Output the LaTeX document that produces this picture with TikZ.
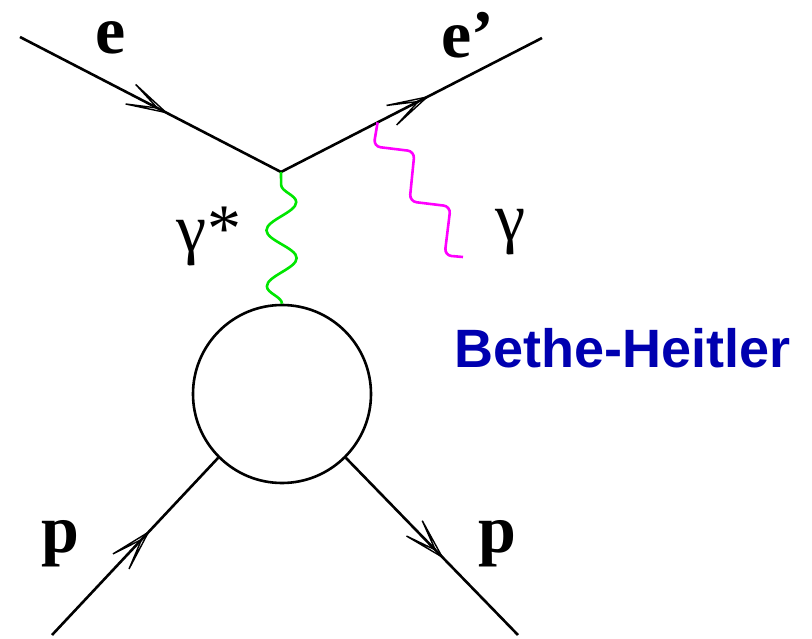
\documentclass[tikz,border=0pt]{standalone}
\usepackage{fontspec}
\setmainfont{Liberation Serif}
\setsansfont{Liberation Sans}
\usetikzlibrary{arrows.meta,calc,decorations.pathmorphing,decorations.markings}
\definecolor{bhblue}{RGB}{0,0,176}
\definecolor{vgreen}{RGB}{0,230,0}
\definecolor{rmag}{RGB}{255,0,255}

\begin{document}
\begin{tikzpicture}[x=1pt,y=-1pt,line width=2.6pt,
  fermion/.style={postaction={decorate,decoration={markings,mark=at position #1 with {\draw[line width=1.4pt,line join=miter] (-40pt,11pt) -- (0pt,0pt) -- (-40pt,-11pt) (-40pt,11pt) -- (-10pt,0pt) -- (-40pt,-11pt);}}}},
  photon/.style={decorate,decoration={snake,amplitude=15pt,segment length=56pt}},
  lbl/.style={inner sep=0pt,font=\fontsize{68}{70}\selectfont\bfseries},
  glbl/.style={inner sep=0pt,font=\fontsize{68}{70}\selectfont}]
\useasboundingbox (0,0) rectangle (812,639);
\coordinate (ein) at (20,37); \coordinate (v) at (281,172); \coordinate (eout) at (542,38);
\node[draw,circle,minimum size=178pt,inner sep=0pt] (blob) at (282,394) {};
\coordinate (pin) at (52,635); \coordinate (pout) at (518,635);
\coordinate (emit) at ($(v)!0.37!(eout)$); \coordinate (gend) at (463,257);
% fermion lines
\draw[fermion=0.56] (ein) -- (v); \draw[fermion=0.56] (v) -- (eout);
\draw[fermion=0.58] (pin) -- (blob.-135); \draw[fermion=0.56] (blob.-45) -- (pout);
% photons
\draw[vgreen,photon] (blob.north) -- (v);
\draw[rmag,rounded corners=7pt] (emit) -- ++(-4,24) -- ++(41,5) -- ++(-5,50) -- ++(41,5) -- ++(-6,49) -- (gend);
% labels
\node[lbl,anchor=base west] (le) at (94,54) {e};
\node[lbl,anchor=base west] (le2) at (440,58) {e’};
\node[lbl] (lp1) at (60,544) {p}; \node[lbl] (lp2) at (497,544) {p};
\node[glbl] (lgs) at (209,236) {γ*}; \node[glbl] (lg) at (511,232) {γ};
\node[inner sep=0pt,anchor=base west,text=bhblue,font=\sffamily\bfseries\fontsize{54}{56}\selectfont] (bh) at (453,367) {Bethe-Heitler};
\end{tikzpicture}
\end{document}
